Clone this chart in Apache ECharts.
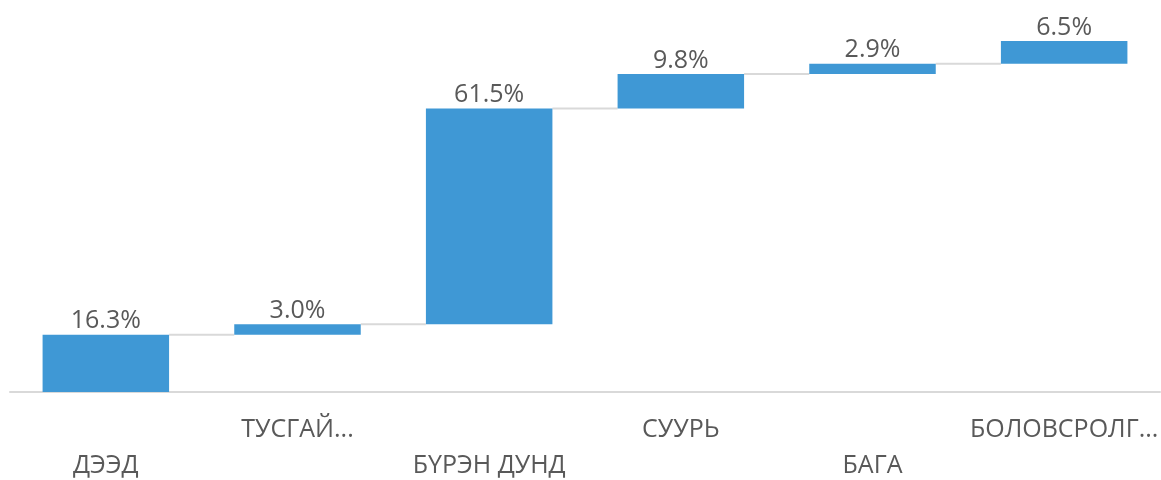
<!DOCTYPE html>
<html>
<head>
<meta charset="utf-8">
<script src="https://cdn.jsdelivr.net/npm/echarts@6/dist/echarts.min.js"></script>
<style>
  html, body { margin: 0; padding: 0; background: #fff; }
  #chart { width: 1161px; height: 480px; }
</style>
</head>
<body>
<div id="chart"></div>
<script>
const categories = ['ДЭЭД', 'ТУСГАЙ...', 'БҮРЭН ДУНД', 'СУУРЬ', 'БАГА', 'БОЛОВСРОЛГ...'];
const values = [16.3, 3.0, 61.5, 9.8, 2.9, 6.5];

// running totals for the waterfall
const bases = [];
const tops = [];
let run = 0;
values.forEach((v) => {
  bases.push(+run.toFixed(1));
  run += v;
  tops.push(+run.toFixed(1));
});

const labelColor = '#595959';
const barColor = '#3f98d5';
const lineColor = '#d9d9d9';
const fontFamily = '"Open Sans", "Noto Sans", sans-serif';

const chart = echarts.init(document.getElementById('chart'));

const option = {
  animation: false,
  grid: { left: 10, right: 1, top: 41, bottom: 88, containLabel: false, outerBoundsMode: 'none' },
  xAxis: {
    type: 'category',
    data: categories,
    axisTick: { show: false },
    axisLine: { lineStyle: { color: lineColor, width: 2 } },
    axisLabel: {
      interval: 0,
      margin: 20,
      color: labelColor,
      fontSize: 25,
      fontFamily: fontFamily,
      lineHeight: 36,
      verticalAlign: 'top',
      formatter: (v, i) => (i % 2 === 0 ? '\n' + v : v),
    },
  },
  yAxis: {
    type: 'value',
    min: 0,
    max: 100,
    show: false,
  },
  series: [
    {
      name: 'base',
      type: 'bar',
      stack: 'wf',
      barCategoryGap: '34%',
      itemStyle: { color: 'transparent' },
      emphasis: { disabled: true },
      data: bases,
    },
    {
      name: 'value',
      type: 'bar',
      stack: 'wf',
      barCategoryGap: '34%',
      itemStyle: { color: barColor },
      label: {
        show: true,
        position: 'top',
        distance: 1,
        color: labelColor,
        fontSize: 25,
        fontFamily: fontFamily,
        formatter: (p) => p.value.toFixed(1) + '%',
      },
      data: values,
    },
    {
      // connector lines between neighbouring bars
      name: 'connector',
      type: 'custom',
      silent: true,
      z: 1,
      data: tops.slice(0, -1).map((t, i) => [i, t]),
      renderItem: (params, api) => {
        const i = api.value(0);
        const y = api.value(1);
        const p0 = api.coord([i, y]);
        const p1 = api.coord([i + 1, y]);
        const bandW = api.size([1, 0])[0];
        const half = bandW * 0.66 / 2;
        return {
          type: 'line',
          shape: { x1: p0[0] + half, y1: p0[1], x2: p1[0] - half, y2: p1[1] },
          style: { stroke: lineColor, lineWidth: 2 },
        };
      },
    },
  ],
};

chart.setOption(option);
</script>
</body>
</html>
